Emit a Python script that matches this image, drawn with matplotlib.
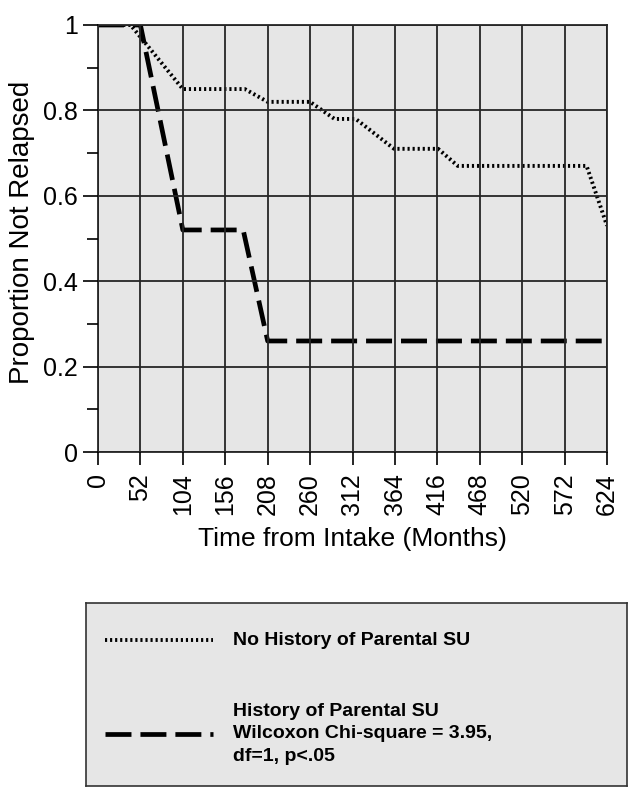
import matplotlib
matplotlib.use('Agg')
import matplotlib.pyplot as plt
from matplotlib.lines import Line2D

plt.rcParams['font.family'] = ['Liberation Sans', 'DejaVu Sans']

# survival curves
months_no_hist = [0, 40, 104, 180, 208, 260, 290, 316, 363, 417, 441, 599, 624]
surv_no_hist = [1.0, 1.0, 0.85, 0.85, 0.82, 0.82, 0.78, 0.78, 0.71, 0.71, 0.67, 0.67, 0.53]

months_hist = [0, 52, 104, 178, 208, 624]
surv_hist = [1.0, 1.0, 0.52, 0.52, 0.26, 0.26]

x_ticks = list(range(0, 625, 52))
y_ticks = [0, 0.2, 0.4, 0.6, 0.8, 1]
y_labels = ['0', '0.2', '0.4', '0.6', '0.8', '1']
y_minor = [0.1, 0.3, 0.5, 0.7, 0.9]

label_no_hist = 'No History of Parental SU'
label_hist = 'History of Parental SU\nWilcoxon Chi-square = 3.95,\ndf=1, p<.05'

gray = '#e6e6e6'
dotted = (0, (0.55, 0.75))
dashed = (0, (5.5, 1.9))

fig = plt.figure(figsize=(6.3, 7.9), dpi=100)
ax = fig.add_axes([98/630, 1 - 452/790, (607 - 98)/630, (452 - 25)/790])
ax.set_facecolor(gray)

ax.plot(months_no_hist, surv_no_hist, color='black', lw=2.8, linestyle=dotted)
ax.plot(months_hist, surv_hist, color='black', lw=3.4, linestyle=dashed)

ax.set_xlim(0, 624)
ax.set_ylim(0, 1)
ax.set_xticks(x_ticks)
ax.set_xticklabels([str(t) for t in x_ticks], rotation=90, fontsize=18)
ax.set_yticks(y_ticks)
ax.set_yticklabels(y_labels, fontsize=18)
ax.set_yticks(y_minor, minor=True)
ax.tick_params(axis='x', length=9.4, width=1.2, pad=5.8)
ax.tick_params(axis='y', which='major', length=10.8, width=1.2, pad=3.6)
ax.tick_params(axis='y', which='minor', length=8, width=1.2)
ax.grid(True, which='major', color='#262626', lw=1.3)
ax.set_axisbelow(False)
for s in ax.spines.values():
    s.set_color('#262626')
    s.set_linewidth(1.3)

ax.set_xlabel('Time from Intake (Months)', fontsize=19, va='top')
ax.xaxis.set_label_coords(0.5, -0.176)
ax.set_ylabel('Proportion Not Relapsed', fontsize=20, va='center')
ax.yaxis.set_label_coords(-0.149, 0.515)

# legend box
lax = fig.add_axes([86/630, 1 - 786/790, (627 - 86)/630, (786 - 603)/790])
lax.set_facecolor(gray)
lax.set_xticks([])
lax.set_yticks([])
lax.set_xlim(0, 1)
lax.set_ylim(0, 1)
for s in lax.spines.values():
    s.set_color('#333333')
    s.set_linewidth(1.2)
lax.add_line(Line2D([0.036, 0.234], [0.80, 0.80], color='black', lw=2.8, linestyle=dotted))
lax.add_line(Line2D([0.036, 0.234], [0.285, 0.285], color='black', lw=3.4, linestyle=dashed))
lax.text(0.271, 0.795, label_no_hist, fontsize=14, fontweight='bold', va='center', ha='left')
lax.text(0.271, 0.285, label_hist, fontsize=14, fontweight='bold', va='center', ha='left',
         linespacing=1.4)

fig.savefig('out.png', dpi=100)
